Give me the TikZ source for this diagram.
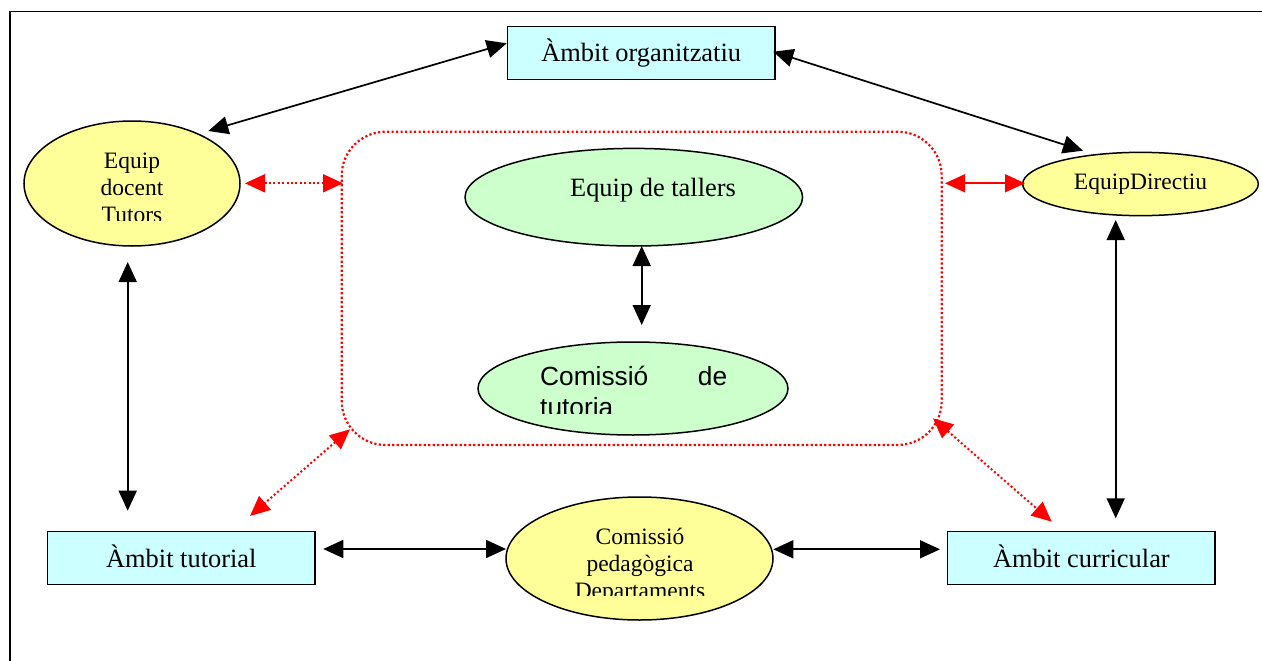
\documentclass[tikz,border=0pt]{standalone}
\usepackage{fontspec}
\setmainfont{Liberation Serif}
\newfontfamily\arialfont{Liberation Sans}
\usetikzlibrary{shapes.geometric,arrows.meta}
\definecolor{boxcyan}{HTML}{CCFFFF}
\definecolor{ovalyellow}{HTML}{FFFF99}
\definecolor{ovalgreen}{HTML}{CCFFCC}
\begin{document}
\begin{tikzpicture}[x=1pt,y=-1pt,
  area/.style={draw, line width=1.5pt, fill=boxcyan, minimum width=267.5pt,
    minimum height=52.6pt, inner sep=0pt, font=\fontsize{26.4}{30}\selectfont,
    text height=24pt, text depth=6pt},
  oval/.style={ellipse, draw, line width=1.5pt, inner sep=0pt},
  txt/.style={inner sep=0pt, anchor=base},
  bigtext/.style={font=\fontsize{26.4}{30}\selectfont},
  smalltext/.style={font=\fontsize{23.5}{27.3}\selectfont},
  link/.style={line width=1.7pt,
    {Triangle[length=20pt,width=18pt]}-{Triangle[length=20pt,width=18pt]}},
  redlink/.style={link, red},
  reddots/.style={link, red, line width=2pt, dash pattern=on 2pt off 2.4pt},
]
\useasboundingbox (0,0) rectangle (1262,661);

% page frame
\draw[line width=1.6pt] (1262,11.5) -- (10,11.5) -- (10,661);

% dotted group around the workshop team and the tutoring commission
\node[draw=red, line width=2.2pt, dash pattern=on 2.2pt off 2.3pt,
  rounded corners=44pt, minimum width=600pt, minimum height=313.3pt,
  inner sep=0pt] (group) at (641.7,288.35) {};

% areas
\node[area] (org) at (641.2,53) {Àmbit organitzatiu};
\node[area] (tutorial) at (181.3,558) {Àmbit tutorial};
\node[area] (curric) at (1081.4,558) {Àmbit curricular};

% teams and commissions
\node[oval, fill=ovalyellow, minimum width=216pt, minimum height=125pt]
  (docent) at (132,183.5) {};
\node[oval, fill=ovalyellow, minimum width=235.6pt, minimum height=63.3pt,
  smalltext] (directiu) at (1140.5,184) {EquipDirectiu};
\node[oval, fill=ovalgreen, minimum width=337.6pt, minimum height=97.6pt]
  (tallers) at (633.8,197.2) {};
\node[oval, fill=ovalgreen, minimum width=310pt, minimum height=93pt]
  (tutoria) at (633,388.5) {};
\node[oval, fill=ovalyellow, minimum width=267pt, minimum height=123pt]
  (pedag) at (639.5,558.5) {};

% texts inside the ovals (cut off by their text frames)
\node[txt, bigtext] (tallerstext) at (653,196.7) {Equip de tallers};
\begin{scope}
  \clip (20,100) rectangle (250,220);
  \node[txt, smalltext] (docenttext) at (132,168)
    {\begin{tabular}[t]{@{}c@{}}Equip\\docent\\Tutors\end{tabular}};
\end{scope}
\begin{scope}
  \clip (470,330) rectangle (800,413);
  \node[txt, anchor=base west, font=\arialfont\fontsize{26.3}{31}\selectfont]
    (tutoriatext) at (540,385)
    {\begin{tabular}[t]{@{}l@{}}\makebox[187pt]{Comissió\hfill de}\\tutoria\end{tabular}};
\end{scope}
\begin{scope}
  \clip (500,490) rectangle (780,595);
  \node[txt, smalltext] (pedagtext) at (640,544.3)
    {\begin{tabular}[t]{@{}c@{}}Comissió\\pedagògica\\Departaments\end{tabular}};
\end{scope}

% connector ends
\coordinate (org-w) at (506.7,43.3);
\coordinate (docent-ne) at (208.3,131);
\coordinate (org-e) at (773.3,51.7);
\coordinate (directiu-n) at (1083,150.7);
\coordinate (docent-s) at (127.7,262);
\coordinate (tutorial-n) at (127.7,510.7);
\coordinate (directiu-s) at (1115.7,220);
\coordinate (curric-n) at (1115.7,518.3);
\coordinate (tutorial-e) at (323.3,549);
\coordinate (pedag-w) at (506,549);
\coordinate (pedag-e) at (773.3,549.3);
\coordinate (curric-w) at (940,549.3);
\coordinate (tallers-s) at (641.7,246);
\coordinate (tutoria-n) at (641.7,325);
\coordinate (docent-e) at (245,183.3);
\coordinate (group-w) at (343,183.3);
\coordinate (group-e) at (945,183.3);
\coordinate (directiu-w) at (1025,183.3);
\coordinate (group-sw) at (350,429.3);
\coordinate (tutorial-ne) at (250,516);
\coordinate (group-se) at (933,418.3);
\coordinate (curric-nw) at (1051.7,521.7);

% black links
\draw[link] (org-w) -- (docent-ne);
\draw[link] (org-e) -- (directiu-n);
\draw[link] (docent-s) -- (tutorial-n);
\draw[link] (directiu-s) -- (curric-n);
\draw[link] (tutorial-e) -- (pedag-w);
\draw[link] (pedag-e) -- (curric-w);
\draw[link] (tallers-s) -- (tutoria-n);

% red links to the group
\draw[reddots] (docent-e) -- (group-w);
\draw[redlink] (group-e) -- (directiu-w);
\draw[reddots] (group-sw) -- (tutorial-ne);
\draw[reddots] (group-se) -- (curric-nw);
\end{tikzpicture}
\end{document}
